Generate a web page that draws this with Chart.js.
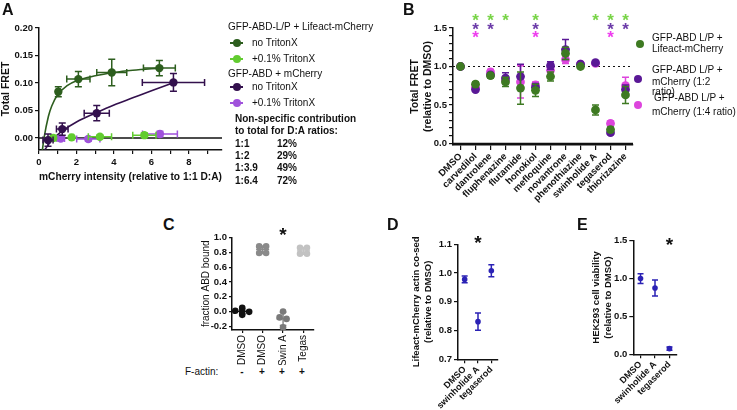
<!DOCTYPE html>
<html>
<head>
<meta charset="utf-8">
<script src="https://cdn.jsdelivr.net/npm/chart.js@4.4.1/dist/chart.umd.min.js"></script>
<style>
  body { margin: 0; width: 737px; height: 410px; position: relative; overflow: hidden; background: #fff;
         font-family: 'Liberation Sans', Arial, sans-serif; color: #111; }
  .panel { position: absolute; }
  .txt { position: absolute; white-space: nowrap; line-height: 1; }
  .dot { position: absolute; border-radius: 50%; }
  .bar { position: absolute; height: 1.5px; }
</style>
</head>
<body>
<div class="panel" style="left:0;top:0;width:230px;height:190px"><canvas id="chartA"></canvas></div>
<div class="panel" style="left:400px;top:0;width:240px;height:210px"><canvas id="chartB"></canvas></div>
<div class="panel" style="left:195px;top:225px;width:125px;height:140px"><canvas id="chartC"></canvas></div>
<div class="panel" style="left:405px;top:225px;width:100px;height:190px"><canvas id="chartD"></canvas></div>
<div class="panel" style="left:585px;top:225px;width:100px;height:185px"><canvas id="chartE"></canvas></div>
<script>
// ---- A: FRET vs mCherry intensity ----
const aXTicks = [0, 1, 2, 3, 4, 5, 6, 7, 8, 9];
const aYTicks = [0, 0.05, 0.10, 0.15, 0.20];
const aLifeX = [1.03, 2.1, 3.88, 6.42];
const aLifeY = [0.084, 0.107, 0.119, 0.127];
const aLifeXErr = [0.1, 0.62, 0.8, 0.85];
const aLifeYErr = [0.009, 0.014, 0.024, 0.014];
const aLifeTritonX = [0.76, 1.74, 3.25, 5.62];
const aLifeTritonY = [0.0, 0.001, 0.002, 0.005];
const aLifeTritonXErr = [0.15, 0.1, 0.62, 0.62];
const aLifeTritonYErr = [0.002, 0.002, 0.003, 0.004];
const aFreeX = [0.48, 1.24, 3.08, 7.17];
const aFreeY = [-0.004, 0.016, 0.045, 0.101];
const aFreeXErr = [0.27, 0.31, 0.67, 1.66];
const aFreeYErr = [0.011, 0.011, 0.014, 0.016];
const aFreeTritonX = [1.16, 2.63, 6.45];
const aFreeTritonY = [-0.001, -0.002, 0.007];
const aFreeTritonXErr = [0.2, 0.62, 0.93];
const aFreeTritonYErr = [0.003, 0.004, 0.005];
// fitted curves
const aLifeFitX = [0.18, 0.27, 0.5, 0.68, 1.0, 1.5, 2.0, 3.0, 4.0, 5.0, 6.5];
const aLifeFitY = [-0.022, 0, 0.039, 0.058, 0.079, 0.095, 0.104, 0.113, 0.119, 0.123, 0.127];
const aFreeFitX = [0.3, 0.6, 1.0, 1.3, 2.0, 3.0, 4.0, 5.0, 6.0, 7.2];
const aFreeFitY = [-0.022, -0.008, 0.006, 0.014, 0.029, 0.045, 0.060, 0.073, 0.086, 0.101];

// ---- B: drug screen ----
const bDrugs = ['DMSO', 'carvedilol', 'dantrolene', 'fluphenazine', 'flutamide', 'honokiol', 'mefloquine',
  'novantrone', 'phenothiazine', 'swinholide A', 'tegaserod', 'thiorizazine'];
const bLifeact = [1.0, 0.77, 0.88, 0.80, 0.72, 0.69, 0.87, 1.17, 1.0, 0.435, 0.18, 0.63];
const bLifeactErr = [0, 0.03, 0.03, 0.06, 0.21, 0.08, 0.06, 0.08, 0.02, 0.065, 0.03, 0.11];
const bRatio2 = [1.0, 0.70, 0.89, 0.85, 0.87, 0.73, 1.01, 1.22, 1.03, 1.05, 0.14, 0.70];
const bRatio2Err = [0, 0.02, 0.02, 0.07, 0.16, 0.05, 0.05, 0.13, 0.02, 0.015, 0.02, 0.06];
const bRatio4 = [1.0, 0.73, 0.93, 0.82, 0.80, 0.76, 0.95, 1.09, 1.03, 1.04, 0.26, 0.75];
const bRatio4Err = [0, 0.03, 0.03, 0.05, 0.21, 0.04, 0.05, 0.05, 0.02, 0.02, 0.03, 0.11];
const bStarsLifeact = [0, 1, 1, 1, 0, 1, 0, 0, 0, 1, 1, 1];
const bStarsRatio2 = [0, 1, 1, 0, 0, 1, 0, 0, 0, 0, 1, 1];
const bStarsRatio4 = [0, 1, 0, 0, 0, 1, 0, 0, 0, 0, 1, 0];
const bYTicks = [0, 0.5, 1.0, 1.5];
const bYMinor = [0.1, 0.2, 0.3, 0.4, 0.6, 0.7, 0.8, 0.9, 1.1, 1.2, 1.3, 1.4];

// ---- C: fraction bound ----
const cGroups = ['DMSO', 'DMSO', 'Swin A', 'Tegas'];
const cFActin = ['-', '+', '+', '+'];
const cDmsoNoActin = [0.05, 0.01, 0.0, -0.005, -0.045];
const cDmsoActin = [0.88, 0.88, 0.79, 0.79];
const cSwinActin = [0.0, -0.08, -0.10, -0.215];
const cTegasActin = [0.86, 0.86, 0.78, 0.78];
const cStars = [0, 0, 1, 0];
const cYTicks = [-0.2, 0, 0.2, 0.4, 0.6, 0.8, 1.0];

// ---- D / E ----
const deCats = ['DMSO', 'swinholide A', 'tegaserod'];
const dCosed = [0.978, 0.831, 1.008];
const dCosedErr = [0.012, 0.03, 0.021];
const dStars = [0, 1, 0];
const dYTicks = [0.7, 0.8, 0.9, 1.0, 1.1];
const eViability = [1.0, 0.875, 0.075];
const eViabilityErr = [0.065, 0.105, 0.02];
const eStars = [0, 0, 1];
const eYTicks = [0, 0.5, 1.0, 1.5];

const ink = '#111';
const fontFam = "'Liberation Sans', Arial, sans-serif";
Chart.defaults.font.family = fontFam;
Chart.defaults.color = ink;
Chart.defaults.animation = false;
Chart.defaults.maintainAspectRatio = false;
Chart.defaults.plugins.legend.display = false;
Chart.defaults.plugins.tooltip.enabled = false;

const tickFont = { size: 9.5, weight: 'bold' };
const fixSize = px => s => { if (s.isHorizontal()) s.height = px; else s.width = px; };
const setTicks = vals => s => { s.ticks = vals.map(v => ({ value: v })); };
const axisStyle = len => ({
  grid: { drawOnChartArea: false, drawTicks: true, tickLength: len, color: ink, lineWidth: 1.2 },
  border: { display: true, color: ink, width: 1.5 }
});

// error bars, drawn after each dataset with the same colour
const errorBars = {
  id: 'errorBars',
  afterDatasetDraw(chart, args) {
    const ds = chart.data.datasets[args.index];
    if (!ds.errX && !ds.errY) return;
    const meta = args.meta, ctx = chart.ctx;
    const xs = chart.scales[meta.xAxisID], ys = chart.scales[meta.yAxisID];
    const cap = ds.cap || 3.5;
    ctx.save();
    ctx.strokeStyle = ds.borderColor;
    ctx.lineWidth = 1.5;
    meta.data.forEach((el, i) => {
      const p = meta.controller.getParsed(i);
      ctx.beginPath();
      if (ds.errY && ds.errY[i]) {
        const t = ys.getPixelForValue(p.y + ds.errY[i]), b = ys.getPixelForValue(p.y - ds.errY[i]);
        ctx.moveTo(el.x, t); ctx.lineTo(el.x, b);
        ctx.moveTo(el.x - cap, t); ctx.lineTo(el.x + cap, t);
        ctx.moveTo(el.x - cap, b); ctx.lineTo(el.x + cap, b);
      }
      if (ds.errX && ds.errX[i]) {
        const l = xs.getPixelForValue(p.x - ds.errX[i]), r = xs.getPixelForValue(p.x + ds.errX[i]);
        ctx.moveTo(l, el.y); ctx.lineTo(r, el.y);
        ctx.moveTo(l, el.y - cap); ctx.lineTo(l, el.y + cap);
        ctx.moveTo(r, el.y - cap); ctx.lineTo(r, el.y + cap);
      }
      ctx.stroke();
    });
    ctx.restore();
  }
};

const refLines = {
  id: 'refLines',
  beforeDatasetsDraw(chart, args, o) {
    if (!o.lines) return;
    const { ctx, chartArea: a } = chart, y = chart.scales.y;
    o.lines.forEach(l => {
      const py = y.getPixelForValue(l.value);
      ctx.save();
      ctx.strokeStyle = ink;
      ctx.lineWidth = l.width || 1.5;
      ctx.setLineDash(l.dash || []);
      ctx.beginPath(); ctx.moveTo(a.left, py); ctx.lineTo(a.right, py); ctx.stroke();
      ctx.restore();
    });
  }
};

const stars = {
  id: 'stars',
  afterDraw(chart, args, o) {
    if (!o.rows) return;
    const { ctx, chartArea: a } = chart, x = chart.scales.x;
    ctx.save();
    ctx.textAlign = 'center';
    ctx.textBaseline = 'alphabetic';
    ctx.font = `bold ${o.size}px ${fontFam}`;
    o.rows.forEach(r => {
      ctx.fillStyle = r.color;
      r.flags.forEach((f, i) => {
        if (f) ctx.fillText('*', x.getPixelForValue(i + (o.base || 0)), a.top - r.rise + 0.56 * o.size);
      });
    });
    ctx.restore();
  }
};

// mean line + SD bar for the column scatter in C
const groupStats = {
  id: 'groupStats',
  afterDatasetsDraw(chart) {
    const { ctx } = chart, x = chart.scales.x, y = chart.scales.y;
    chart.data.datasets.forEach(ds => {
      if (!ds.values) return;
      const n = ds.values.length;
      const mean = ds.values.reduce((s, v) => s + v, 0) / n;
      const sd = Math.sqrt(ds.values.reduce((s, v) => s + (v - mean) ** 2, 0) / (n - 1));
      const px = x.getPixelForValue(ds.group);
      const half = x.getPixelForValue(ds.group + 0.32) - px, cap = x.getPixelForValue(ds.group + 0.16) - px;
      const my = y.getPixelForValue(mean), t = y.getPixelForValue(mean + sd), b = y.getPixelForValue(mean - sd);
      ctx.save();
      ctx.strokeStyle = ds.borderColor; ctx.lineWidth = 1.3;
      ctx.beginPath();
      ctx.moveTo(px - half, my); ctx.lineTo(px + half, my);
      ctx.moveTo(px, t); ctx.lineTo(px, b);
      ctx.moveTo(px - cap, t); ctx.lineTo(px + cap, t);
      ctx.moveTo(px - cap, b); ctx.lineTo(px + cap, b);
      ctx.stroke();
      ctx.restore();
    });
  }
};

function pts(xs, ys, xErr, yErr, color, r) {
  return {
    data: xs.map((x, i) => ({ x, y: ys[i] })), errX: xErr, errY: yErr, cap: 3.5,
    borderColor: color, pointBackgroundColor: color, pointRadius: r, pointBorderWidth: 0, showLine: false
  };
}
function fit(xs, ys, color) {
  return {
    data: xs.map((x, i) => ({ x, y: ys[i] })), borderColor: color, borderWidth: 1.6,
    pointRadius: 0, showLine: true, cubicInterpolationMode: 'monotone'
  };
}

// ---------- A ----------
const aLifeCol = '#2d5e1e', aLifeTritonCol = '#62cc30', aFreeCol = '#33104d', aFreeTritonCol = '#a052dc';
new Chart(document.getElementById('chartA'), {
  type: 'scatter',
  data: {
    datasets: [
      pts(aLifeX, aLifeY, aLifeXErr, aLifeYErr, aLifeCol, 4.2),
      pts(aFreeX, aFreeY, aFreeXErr, aFreeYErr, aFreeCol, 4.2),
      pts(aLifeTritonX, aLifeTritonY, aLifeTritonXErr, aLifeTritonYErr, aLifeTritonCol, 4.2),
      pts(aFreeTritonX, aFreeTritonY, aFreeTritonXErr, aFreeTritonYErr, aFreeTritonCol, 4.2),
      fit(aLifeFitX, aLifeFitY, aLifeCol),
      fit(aFreeFitX, aFreeFitY, aFreeCol)
    ]
  },
  options: {
    layout: { padding: { top: 28, right: 8, left: 0, bottom: 0 } },
    plugins: { refLines: { lines: [{ value: 0 }] } },
    scales: {
      x: {
        type: 'linear', min: 0, max: 9.76, afterBuildTicks: setTicks(aXTicks), afterFit: fixSize(40),
        ticks: { font: tickFont, color: ink, padding: 3, autoSkip: false, maxRotation: 0,
                 callback: v => (v % 2 === 0 ? String(v) : '') },
        title: { display: true, text: 'mCherry intensity (relative to 1:1 D:A)', color: ink,
                 font: { size: 10.5, weight: 'bold' }, padding: { top: 0, bottom: 6.7 } },
        ...axisStyle(4)
      },
      y: {
        type: 'linear', min: -0.022, max: 0.2, afterBuildTicks: setTicks(aYTicks), afterFit: fixSize(39),
        ticks: { font: tickFont, color: ink, padding: 2, autoSkip: false, callback: v => v.toFixed(2) },
        title: { display: true, text: 'Total FRET', color: ink, font: { size: 10.5, weight: 'bold' },
                 padding: { top: 0, bottom: 0 } },
        ...axisStyle(4)
      }
    }
  },
  plugins: [refLines, errorBars]
});

// ---------- B ----------
const bLifeCol = '#3e7a22', bR2Col = '#5a1896', bR4Col = '#dd45dd';
const bSet = (vals, errs, color) => ({
  data: vals, errY: errs, cap: 3.5, borderColor: color, pointBackgroundColor: color,
  pointRadius: 4.4, pointBorderWidth: 0, showLine: false
});
new Chart(document.getElementById('chartB'), {
  type: 'line',
  data: { labels: bDrugs, datasets: [bSet(bLifeact, bLifeactErr, bLifeCol), bSet(bRatio2, bRatio2Err, bR2Col), bSet(bRatio4, bRatio4Err, bR4Col)] },
  options: {
    layout: { padding: { top: 28, right: 7, left: 0, bottom: 0 } },
    plugins: {
      refLines: { lines: [{ value: 0 }, { value: 1, dash: [2, 3], width: 1.2 }] },
      stars: { size: 17, base: 0, rows: [
        { flags: bStarsLifeact, color: '#78d447', rise: 11.3 },
        { flags: bStarsRatio2, color: '#6b3aa8', rise: 3 },
        { flags: bStarsRatio4, color: '#ee3cee', rise: -5.3 }
      ] }
    },
    scales: {
      x: {
        type: 'category', offset: true, afterFit: fixSize(65),
        ticks: { font: tickFont, color: ink, minRotation: 45, maxRotation: 45, autoSkip: false, padding: 1 },
        ...axisStyle(5)
      },
      y: {
        type: 'linear', min: -0.02, max: 1.5, afterBuildTicks: setTicks([...bYTicks, ...bYMinor]), afterFit: fixSize(53),
        ticks: { font: tickFont, color: ink, padding: 2, autoSkip: false,
                 callback: v => (bYTicks.includes(v) ? v.toFixed(1) : '') },
        title: { display: true, text: ['Total FRET', '(relative to DMSO)'], color: ink,
                 font: { size: 10.5, weight: 'bold', lineHeight: 1.3 }, padding: { top: 8, bottom: 0 } },
        ...axisStyle(4)
      }
    }
  },
  plugins: [refLines, errorBars, stars]
});

// ---------- C ----------
// spread near-equal values sideways, like a column scatter
function swarm(values, group, tol, step) {
  const order = values.map((v, i) => i).sort((a, b) => values[b] - values[a]);
  const out = new Array(values.length);
  let cluster = [];
  const flush = () => {
    cluster.forEach((idx, j) => { out[idx] = { x: group + (j - (cluster.length - 1) / 2) * step, y: values[idx] }; });
    cluster = [];
  };
  order.forEach(idx => {
    if (cluster.length && Math.abs(values[cluster[cluster.length - 1]] - values[idx]) > tol) flush();
    cluster.push(idx);
  });
  flush();
  return out;
}
const cSet = (vals, group, color) => ({
  data: swarm(vals, group, 0.03, 0.34), values: vals, group, borderColor: color,
  pointBackgroundColor: color, pointRadius: 3.3, pointBorderWidth: 0, showLine: false
});
new Chart(document.getElementById('chartC'), {
  type: 'scatter',
  data: { datasets: [cSet(cDmsoNoActin, 1, '#111'), cSet(cDmsoActin, 2, '#8a8a8a'), cSet(cSwinActin, 3, '#7a7a7a'), cSet(cTegasActin, 4, '#c2c2c2')] },
  options: {
    layout: { padding: { top: 12.5, right: 6.3, left: 0, bottom: 0 } },
    plugins: { stars: { size: 19, base: 1, rows: [{ flags: cStars, color: ink, rise: 6.8 }] } },
    scales: {
      x: {
        type: 'linear', min: 0.5, max: 4.5, afterBuildTicks: setTicks([1, 2, 3, 4]), afterFit: fixSize(35),
        ticks: { font: { size: 10 }, color: ink, minRotation: 90, maxRotation: 90, autoSkip: false, padding: 2,
                 callback: v => cGroups[v - 1] },
        ...axisStyle(3)
      },
      y: {
        type: 'linear', min: -0.25, max: 1.0, afterBuildTicks: setTicks(cYTicks), afterFit: fixSize(37),
        ticks: { font: tickFont, color: ink, padding: 2, autoSkip: false, callback: v => v.toFixed(1) },
        title: { display: true, text: 'fraction ABD bound', color: ink, font: { size: 10 }, padding: { top: 5.5, bottom: 0 } },
        ...axisStyle(3)
      }
    }
  },
  plugins: [groupStats, stars]
});

// ---------- D / E ----------
const deCol = '#2b22b5';
function smallPanel(id, vals, errs, flags, yTicks, yMin, yMax, decimals, title, box) {
  new Chart(document.getElementById(id), {
    type: 'line',
    data: { labels: deCats, datasets: [{ data: vals, errY: errs, cap: 3, borderColor: deCol, pointBackgroundColor: deCol,
      pointRadius: 2.8, pointBorderWidth: 0, showLine: false }] },
    options: {
      layout: { padding: { top: box.top, right: box.right, left: 0, bottom: 0 } },
      plugins: { stars: { size: 19, base: 0, rows: [{ flags, color: ink, rise: box.rise }] } },
      scales: {
        x: {
          type: 'category', offset: true, afterFit: fixSize(box.xh),
          ticks: { font: { size: 9, weight: 'bold' }, color: ink, minRotation: 45, maxRotation: 45, autoSkip: false, padding: 1 },
          ...axisStyle(4)
        },
        y: {
          type: 'linear', min: yMin, max: yMax, afterBuildTicks: setTicks(yTicks), afterFit: fixSize(box.yw),
          ticks: { font: tickFont, color: ink, padding: 2, autoSkip: false, callback: v => v.toFixed(decimals) },
          title: { display: true, text: title, color: ink, font: { size: 9.5, weight: 'bold' }, padding: { top: 6, bottom: 0 } },
          ...axisStyle(4)
        }
      }
    },
    plugins: [errorBars, stars]
  });
}
smallPanel('chartD', dCosed, dCosedErr, dStars, dYTicks, 0.7, 1.1, 1,
  ['Lifeact-mCherry actin co-sed', '(relative to DMSO)'], { top: 19.3, right: 7, rise: 6, xh: 55.7, yw: 53 });
smallPanel('chartE', eViability, eViabilityErr, eStars, eYTicks, 0, 1.5, 1,
  ['HEK293 cell viability', '(relative to DMSO)'], { top: 15.7, right: 8.3, rise: 0, xh: 55.7, yw: 48.3 });

// ---------- text and legends ----------
function put(text, x, y, size, opt = {}) {
  const d = document.createElement('div');
  d.className = 'txt';
  d.textContent = text;
  d.style.fontSize = size + 'px';
  d.style.top = (y - size / 2) + 'px';
  d.style.left = x + 'px';
  if (opt.bold) d.style.fontWeight = 'bold';
  if (opt.center) d.style.transform = 'translateX(-50%)';
  document.body.appendChild(d);
}
function dot(x, y, r, color) {
  const d = document.createElement('div');
  d.className = 'dot';
  Object.assign(d.style, { left: (x - r) + 'px', top: (y - r) + 'px', width: 2 * r + 'px', height: 2 * r + 'px', background: color });
  document.body.appendChild(d);
}
function legendLine(x, y, w, color) {
  const d = document.createElement('div');
  d.className = 'bar';
  Object.assign(d.style, { left: x + 'px', top: (y - 0.75) + 'px', width: w + 'px', background: color });
  document.body.appendChild(d);
  dot(x + w / 2, y, 4, color);
}

put('A', 2, 10, 16, { bold: true });
put('B', 403, 10, 16, { bold: true });
put('C', 163, 225, 16, { bold: true });
put('D', 387, 225, 16, { bold: true });
put('E', 577, 225, 16, { bold: true });

// legend A
put('GFP-ABD-L/P + Lifeact-mCherry', 228, 27, 10);
legendLine(230, 43, 13, aLifeCol); put('no TritonX', 252, 43, 10);
legendLine(230, 59, 13, aLifeTritonCol); put('+0.1% TritonX', 252, 59, 10);
put('GFP-ABD + mCherry', 228, 74, 10);
legendLine(230, 87, 13, aFreeCol); put('no TritonX', 252, 87, 10);
legendLine(230, 103, 13, aFreeTritonCol); put('+0.1% TritonX', 252, 103, 10);
put('Non-specific contribution', 235, 119, 10, { bold: true });
put('to total for D:A ratios:', 235, 131, 10, { bold: true });
const aRatioRows = [['1:1', '12%'], ['1:2', '29%'], ['1:3.9', '49%'], ['1:6.4', '72%']];
aRatioRows.forEach((row, i) => {
  const y = [144, 156, 168, 181][i];
  put(row[0], 235, y, 10, { bold: true });
  put(row[1], 277, y, 10, { bold: true });
});

// legend B
dot(640, 44, 4, bLifeCol);
put('GFP-ABD L/P +', 652, 38, 10); put('Lifeact-mCherry', 652, 49, 10);
dot(638, 79, 4, bR2Col);
put('GFP-ABD L/P +', 652, 70, 10); put('mCherry (1:2', 652, 82, 10); put('ratio)', 652, 92, 10);
dot(638, 105, 4, bR4Col);
put('GFP-ABD L/P +', 654, 98, 10); put('mCherry (1:4 ratio)', 652, 112, 10);

// F-actin row under C
put('F-actin:', 185, 372, 10);
cFActin.forEach((s, i) => put(s, 242 + 20 * i, 372, 10, { bold: true, center: true }));
</script>
</body>
</html>
